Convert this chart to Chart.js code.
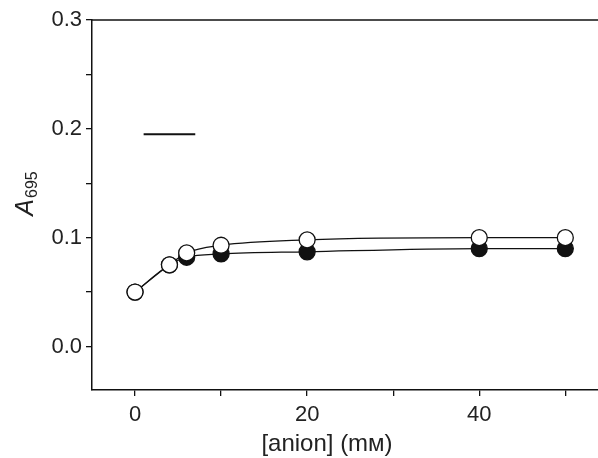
<!DOCTYPE html>
<html>
<head>
<meta charset="utf-8">
<script src="https://cdn.jsdelivr.net/npm/chart.js@4"></script>
<style>
  html, body { margin: 0; padding: 0; background: #fff; }
  #wrap { width: 598px; height: 458px; }
</style>
</head>
<body>
<div id="wrap"><canvas id="myChart" width="598" height="458"></canvas></div>
<script>
// data
const anion = [0, 4, 6, 10, 20, 40, 50];
const openVals = [0.050, 0.075, 0.086, 0.093, 0.098, 0.100, 0.100];
const filledVals = [0.050, 0.075, 0.082, 0.085, 0.087, 0.090, 0.090];
const markX = [1, 7];
const markY = [0.195, 0.195];
const xTicks = [0, 10, 20, 30, 40, 50];
const xLabels = [0, 20, 40];
const yTicks = [0, 0.05, 0.1, 0.15, 0.2, 0.25, 0.3];
const yLabels = [0, 0.1, 0.2, 0.3];

const toPts = (xs, ys) => xs.map((x, i) => ({x: x, y: ys[i]}));

// top frame line + axis titles
const extras = {
  id: 'extras',
  afterDraw(chart) {
    const c = chart.ctx;
    const a = chart.chartArea;
    c.save();
    c.strokeStyle = '#111';
    c.lineWidth = 1.5;
    c.beginPath();
    c.moveTo(a.left, a.top);
    c.lineTo(a.right, a.top);
    c.stroke();

    c.fillStyle = '#222';
    c.textAlign = 'center';
    c.textBaseline = 'middle';
    c.font = '24px "Liberation Sans", Arial, sans-serif';
    c.fillText('[anion] (m\u1D0D)', 327, 444);

    // y title: italic A with subscript 695
    c.translate(24, 194);
    c.rotate(-Math.PI / 2);
    c.textAlign = 'left';
    c.textBaseline = 'alphabetic';
    c.font = 'italic 25px "Liberation Sans", Arial, sans-serif';
    const w1 = c.measureText('A').width;
    c.font = '16px "Liberation Sans", Arial, sans-serif';
    const w2 = c.measureText('695').width;
    const x0 = -(w1 + w2) / 2;
    c.font = 'italic 25px "Liberation Sans", Arial, sans-serif';
    c.fillText('A', x0, 9);
    c.font = '16px "Liberation Sans", Arial, sans-serif';
    c.fillText('695', x0 + w1 + 1, 13);
    c.restore();
  }
};

const ctx = document.getElementById('myChart');
new Chart(ctx, {
    type: 'line',
    data: {
        datasets: [{
            data: toPts(anion, openVals),
            borderColor: '#111',
            borderWidth: 1.2,
            backgroundColor: '#fff',
            pointBackgroundColor: '#fff',
            pointBorderColor: '#111',
            pointBorderWidth: 1.3,
            pointRadius: 8,
            cubicInterpolationMode: 'monotone'
        }, {
            data: toPts(anion, filledVals),
            borderColor: '#111',
            borderWidth: 1.2,
            pointBackgroundColor: '#111',
            pointBorderColor: '#111',
            pointBorderWidth: 1.3,
            pointRadius: 8,
            cubicInterpolationMode: 'monotone'
        }, {
            data: toPts(markX, markY),
            borderColor: '#111',
            borderWidth: 2,
            pointRadius: 0
        }]
    },
    options: {
        responsive: false,
        animation: false,
        events: [],
        layout: {
            autoPadding: false,
            padding: {top: 20, left: 0, right: 0, bottom: 0}
        },
        plugins: {
            legend: {display: false},
            tooltip: {enabled: false}
        },
        scales: {
            x: {
                type: 'linear',
                min: -5,
                max: 53.8,
                afterFit: (s) => { s.height = 68; },
                afterBuildTicks: (s) => { s.ticks = xTicks.map(v => ({value: v})); },
                border: {display: true, color: '#111', width: 1.5},
                grid: {drawOnChartArea: false, drawTicks: true, tickLength: 6, color: '#111', lineWidth: 1.3},
                ticks: {
                    padding: 6,
                    color: '#222',
                    font: {family: '"Liberation Sans", Arial, sans-serif', size: 22},
                    maxRotation: 0,
                    autoSkip: false,
                    callback: (v) => xLabels.includes(v) ? String(v) : ''
                }
            },
            y: {
                type: 'linear',
                min: -0.04,
                max: 0.3,
                afterFit: (s) => { s.width = 92; },
                afterBuildTicks: (s) => { s.ticks = yTicks.map(v => ({value: v})); },
                border: {display: true, color: '#111', width: 1.5},
                grid: {drawOnChartArea: false, drawTicks: true, tickLength: 6, color: '#111', lineWidth: 1.3},
                ticks: {
                    padding: 4,
                    color: '#222',
                    font: {family: '"Liberation Sans", Arial, sans-serif', size: 22},
                    autoSkip: false,
                    callback: (v) => yLabels.includes(v) ? v.toFixed(1) : ''
                }
            }
        }
    },
    plugins: [extras]
});
</script>
</body>
</html>
